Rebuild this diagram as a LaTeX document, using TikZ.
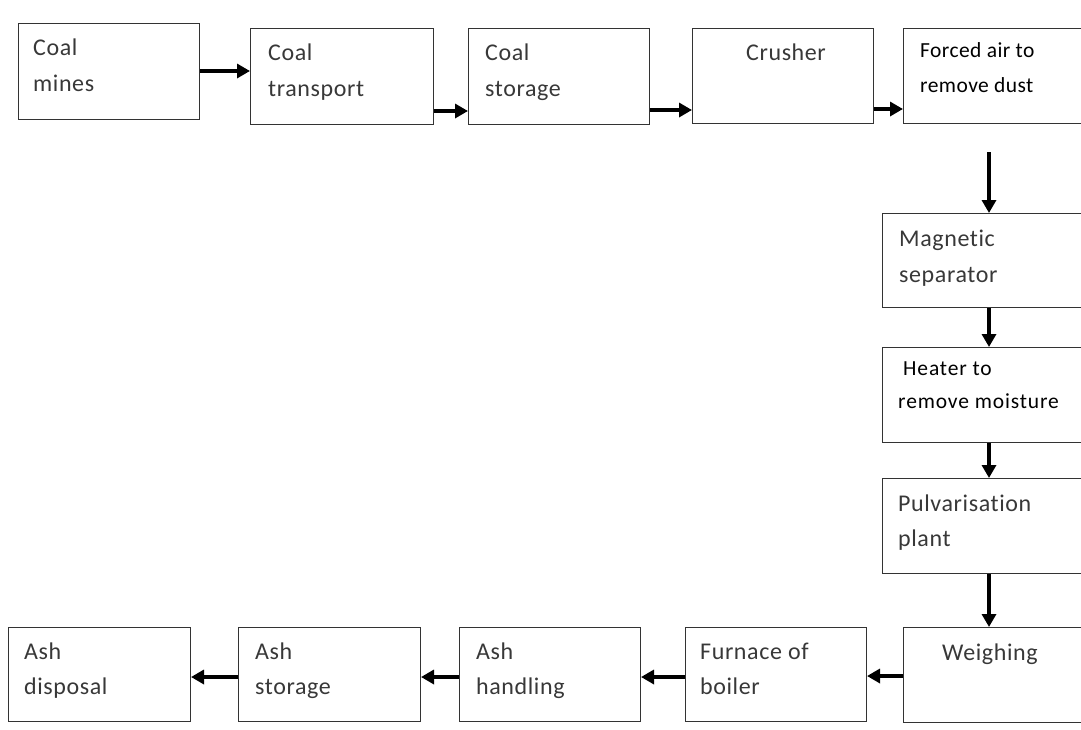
\documentclass[tikz,border=0pt]{standalone}
\usepackage{fontspec}
\setmainfont{Carlito}
\newfontfamily\boxfont[LetterSpace=2.5,Ligatures={NoCommon}]{Carlito}
\newfontfamily\darkfont[LetterSpace=2,Ligatures={NoCommon}]{Carlito}
\newfontfamily\heatfont[LetterSpace=4,Ligatures={NoCommon}]{Carlito}
\usetikzlibrary{arrows.meta}
\begin{document}
\begin{tikzpicture}[x=1pt,y=-1pt,
  box/.style={draw=black!80,line width=1pt,anchor=north west,inner sep=0pt,minimum width=#1},
  box/.default=181pt,
  txt/.style={anchor=base west,inner sep=0pt,text=black!78,font=\boxfont\fontsize{24}{28}\selectfont},
  dtxt/.style={anchor=base west,inner sep=0pt,text=black,font=\darkfont\fontsize{21.5}{26}\selectfont},
  htxt/.style={dtxt,font=\heatfont\fontsize{21.5}{26}\selectfont},
  flow/.style={line width=3.4pt,-{Triangle[length=13pt,width=14pt]}}]
\useasboundingbox (0,0) rectangle (1081,729);
\clip (0,0) rectangle (1081,729);
% boxes
\node[box,minimum height=96pt] (mines) at (18,23) {};
\node[box=183pt,minimum height=96pt] (transport) at (250,28) {};
\node[box,minimum height=96pt] (storage) at (468,28) {};
\node[box,minimum height=95pt] (crusher) at (692,28) {};
\node[box=220pt,minimum height=95pt] (forced) at (903,28) {};
\node[box=220pt,minimum height=94pt] (magnetic) at (882,213) {};
\node[box=220pt,minimum height=95pt] (heater) at (882,347) {};
\node[box=220pt,minimum height=95pt] (pulv) at (882,478) {};
\node[box=220pt,minimum height=95pt] (weigh) at (903,627) {};
\node[box,minimum height=94pt] (furnace) at (685,627) {};
\node[box,minimum height=94pt] (handling) at (459,627) {};
\node[box=182pt,minimum height=94pt] (astorage) at (238,627) {};
\node[box=182pt,minimum height=94pt] (disposal) at (8,627) {};
% texts
\node[txt] (t1a) at (33,55) {Coal};
\node[txt] (t1b) at (33,91) {mines};
\node[txt] (t2a) at (268,60) {Coal};
\node[txt] (t2b) at (268,96) {transport};
\node[txt] (t3a) at (485,60) {Coal};
\node[txt] (t3b) at (485,96) {storage};
\node[txt] (t4a) at (746,60) {Crusher};
\node[dtxt] (t5a) at (920,57) {Forced air to};
\node[dtxt] (t5b) at (920,92) {remove dust};
\node[txt] (t6a) at (899,246) {Magnetic};
\node[txt] (t6b) at (899,282) {separator};
\node[htxt] (t7a) at (903,375) {Heater to};
\node[htxt] (t7b) at (898,408) {remove moisture};
\node[txt] (t8a) at (898,511) {Pulvarisation};
\node[txt] (t8b) at (898,546) {plant};
\node[txt] (t9a) at (942,660) {Weighing};
\node[txt] (t10a) at (700,659) {Furnace of};
\node[txt] (t10b) at (700,694) {boiler};
\node[txt] (t11a) at (476,659) {Ash};
\node[txt] (t11b) at (476,694) {handling};
\node[txt] (t12a) at (255,659) {Ash};
\node[txt] (t12b) at (255,694) {storage};
\node[txt] (t13a) at (24,659) {Ash};
\node[txt] (t13b) at (24,694) {disposal};
% connectors
\coordinate (vx) at (989,0);
\coordinate (fstart) at (989,152);
\draw[flow] (mines.east |- 0,71) -- (transport.west |- 0,71);
\draw[flow] (transport.east |- 0,111) -- (storage.west |- 0,111);
\draw[flow] (storage.east |- 0,110) -- (crusher.west |- 0,110);
\draw[flow] (crusher.east |- 0,109) -- (forced.west |- 0,109);
\draw[flow] (fstart) -- (magnetic.north -| vx);
\draw[flow] (magnetic.south -| vx) -- (heater.north -| vx);
\draw[flow] (heater.south -| vx) -- (pulv.north -| vx);
\draw[flow] (pulv.south -| vx) -- (weigh.north -| vx);
\draw[flow] (weigh.west |- 0,676) -- (furnace.east |- 0,676);
\draw[flow] (furnace.west |- 0,677) -- (handling.east |- 0,677);
\draw[flow] (handling.west |- 0,677) -- (astorage.east |- 0,677);
\draw[flow] (astorage.west |- 0,677) -- (disposal.east |- 0,677);
\end{tikzpicture}
\end{document}
